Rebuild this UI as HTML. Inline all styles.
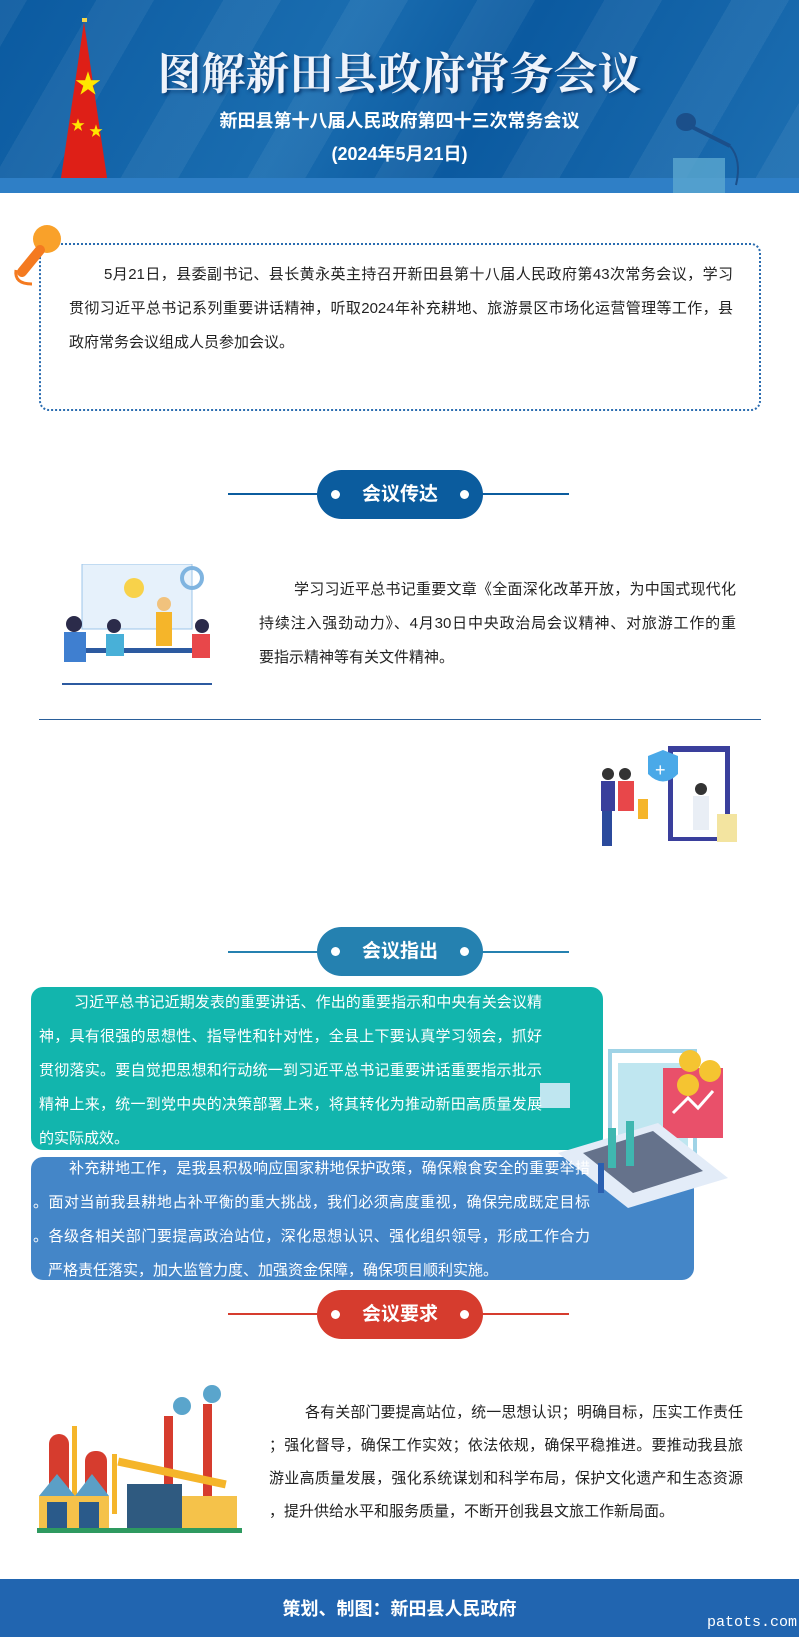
<!DOCTYPE html>
<html><head><meta charset="utf-8">
<style>
*{margin:0;padding:0;box-sizing:border-box}
body{width:799px;height:1637px;position:relative;background:#fff;font-family:"Liberation Sans","Noto Sans CJK SC",sans-serif;overflow:hidden}
.a{position:absolute}
.t{font-size:15px;color:#222;line-height:34px;white-space:nowrap}
.t span{display:block;text-align:justify;text-align-last:justify}
.t span.l{text-align-last:left}
.h{position:absolute;left:317px;width:166px;height:49px;border-radius:25px;color:#fff;font-weight:bold;font-size:19px;text-align:center;line-height:49px}
.h:before,.h:after{content:"";position:absolute;top:20px;width:9px;height:9px;border-radius:50%;background:#fff}
.h:before{left:14px}.h:after{right:14px}
.ln{position:absolute;left:228px;width:341px;height:2px}
</style></head><body>
<div class="a" style="left:0;top:0;width:799px;height:193px;background:linear-gradient(120deg,#0b5aa0 0%,#1a6db0 40%,#0b5aa0 60%,#1d6fb2 100%);overflow:hidden">
 <div class="a" style="left:-100px;top:0;width:900px;height:193px;background:repeating-linear-gradient(120deg,rgba(255,255,255,0) 0 60px,rgba(255,255,255,.06) 60px 110px)"></div>
 <div class="a" style="left:0;top:178px;width:799px;height:15px;background:#2f7fc6"></div>
 <svg class="a" style="left:55px;top:18px" width="60" height="160"><rect x="27" y="0" width="5" height="4" fill="#f6d64a"/><polygon points="29,4 6,160 52,160" fill="#de1f17"/><text x="20" y="75" font-size="26" fill="#ffe600">★</text><text x="16" y="112" font-size="14" fill="#ffe600">★</text><text x="34" y="118" font-size="14" fill="#ffe600">★</text></svg>
 <div class="a" style="left:0;top:38px;width:799px;text-align:center;font-size:44px;font-weight:bold;color:#eef3fb;text-shadow:2px 2px 3px #0a3a70;font-family:'Noto Serif CJK SC','Liberation Serif',serif">图解新田县政府常务会议</div>
 <div class="a" style="left:0;top:107px;width:799px;text-align:center;font-size:18px;font-weight:bold;color:#fff">新田县第十八届人民政府第四十三次常务会议</div>
 <div class="a" style="left:0;top:140px;width:799px;text-align:center;font-size:18px;font-weight:bold;color:#fff">(2024年5月21日)</div>
 <svg class="a" style="left:670px;top:110px" width="90" height="83"><ellipse cx="16" cy="12" rx="10" ry="9" fill="#1b4f8a"/><line x1="20" y1="16" x2="60" y2="36" stroke="#1b4f8a" stroke-width="4"/><path d="M60 36 Q72 50 66 75" stroke="#1b4f8a" fill="none" stroke-width="2"/><rect x="3" y="48" width="52" height="35" fill="#5ba7d0" opacity=".8"/></svg>
</div>
<div class="a" style="left:39px;top:243px;width:722px;height:168px;border:2px dotted #2a6cb0;border-radius:10px"></div>
<svg class="a" style="left:10px;top:222px" width="55" height="65"><circle cx="37" cy="17" r="14" fill="#f9a12a"/><path d="M30 28 L12 50" stroke="#f47a20" stroke-width="10" stroke-linecap="round"/><path d="M6 48 Q4 62 22 62" stroke="#f47a20" stroke-width="3" fill="none"/></svg>
<div class="a t" style="left:69px;top:258px;width:664px">
<span style="padding-left:35px">5月21日，县委副书记、县长黄永英主持召开新田县第十八届人民政府第43次常务会议，学习</span>
<span>贯彻习近平总书记系列重要讲话精神，听取2024年补充耕地、旅游景区市场化运营管理等工作，县</span>
<span class="l">政府常务会议组成人员参加会议。</span></div>
<div class="ln" style="top:493px;background:#0b5c9e"></div>
<div class="h" style="top:470px;background:#0b5c9e">会议传达</div>
<svg class="a" style="left:52px;top:564px" width="170" height="122"><rect x="30" y="0" width="110" height="65" fill="#e6f1fb" stroke="#9cc5ea"/><circle cx="82" cy="24" r="10" fill="#f8d24a"/><circle cx="140" cy="14" r="10" fill="none" stroke="#7fb4e0" stroke-width="4"/><rect x="30" y="84" width="110" height="5" fill="#2c5aa0"/><circle cx="22" cy="60" r="8" fill="#2b2b4a"/><rect x="12" y="68" width="22" height="30" fill="#3f7fd0"/><circle cx="62" cy="62" r="7" fill="#2b2b4a"/><rect x="54" y="70" width="18" height="22" fill="#48b0d8"/><circle cx="112" cy="40" r="7" fill="#f1c27d"/><rect x="104" y="48" width="16" height="34" fill="#f5b52a"/><circle cx="150" cy="62" r="7" fill="#2b2b4a"/><rect x="140" y="70" width="18" height="24" fill="#e8474a"/><line x1="10" y1="120" x2="160" y2="120" stroke="#2c5aa0" stroke-width="2"/></svg>
<div class="a t" style="left:259px;top:573px;width:477px">
<span style="padding-left:35px">学习习近平总书记重要文章《全面深化改革开放，为中国式现代化</span>
<span>持续注入强劲动力》、4月30日中央政治局会议精神、对旅游工作的重</span>
<span class="l">要指示精神等有关文件精神。</span></div>
<div class="a" style="left:39px;top:719px;width:722px;height:1px;background:#2a5f9a"></div>
<svg class="a" style="left:593px;top:744px" width="162" height="108"><rect x="75" y="2" width="62" height="95" fill="#3a3f9c"/><rect x="80" y="8" width="52" height="85" fill="#fff"/><path d="M55 12 L70 6 L85 12 L85 30 Q70 45 55 30Z" fill="#4aa9e8"/><text x="62" y="32" font-size="18" fill="#fff">+</text><circle cx="15" cy="30" r="6" fill="#333"/><rect x="8" y="37" width="14" height="30" fill="#3a3f9c"/><rect x="9" y="67" width="10" height="35" fill="#2b4a9c"/><circle cx="32" cy="30" r="6" fill="#333"/><rect x="25" y="37" width="16" height="30" fill="#e8474a"/><rect x="45" y="55" width="10" height="20" fill="#f5b52a"/><circle cx="108" cy="45" r="6" fill="#333"/><rect x="100" y="52" width="16" height="34" fill="#e9eef5"/><rect x="124" y="70" width="20" height="28" fill="#f3e4a0"/></svg>
<div class="ln" style="top:951px;background:#2581b0"></div>
<div class="h" style="top:927px;background:#2581b0">会议指出</div>
<div class="a" style="left:31px;top:987px;width:572px;height:163px;background:#12b5ad;border-radius:12px"></div>
<div class="a" style="left:31px;top:1157px;width:663px;height:123px;background:#4486c8;border-radius:12px"></div>
<svg class="a" style="left:538px;top:1003px" width="190" height="210"><rect x="80" y="60" width="70" height="95" fill="#bfe6f0"/><rect x="72" y="48" width="85" height="110" fill="none" stroke="#9fd3e6" stroke-width="4"/><rect x="125" y="65" width="60" height="70" fill="#e9506a"/><polyline points="135,110 150,95 160,105 175,88" stroke="#fff" stroke-width="3" fill="none"/><circle cx="152" cy="58" r="11" fill="#f5c431"/><circle cx="172" cy="68" r="11" fill="#f5c431"/><circle cx="150" cy="82" r="11" fill="#f5c431"/><polygon points="20,150 120,120 190,175 90,205" fill="#e3ecf8"/><polygon points="45,150 115,128 165,168 95,190" fill="#2f3f5c" opacity=".7"/><rect x="70" y="125" width="8" height="40" fill="#3fb7b0"/><rect x="88" y="118" width="8" height="45" fill="#3fb7b0"/><rect x="2" y="80" width="30" height="25" fill="#bfe6f0"/><rect x="60" y="160" width="6" height="30" fill="#2a5fb0"/></svg>
<div class="a t" style="left:39px;top:986px;width:503px;color:#fff">
<span style="padding-left:35px">习近平总书记近期发表的重要讲话、作出的重要指示和中央有关会议精</span>
<span>神，具有很强的思想性、指导性和针对性，全县上下要认真学习领会，抓好</span>
<span>贯彻落实。要自觉把思想和行动统一到习近平总书记重要讲话重要指示批示</span>
<span>精神上来，统一到党中央的决策部署上来，将其转化为推动新田高质量发展</span>
<span class="l">的实际成效。</span></div>
<div class="a t" style="left:33px;top:1152px;width:557px;color:#fff">
<span style="padding-left:36px">补充耕地工作，是我县积极响应国家耕地保护政策，确保粮食安全的重要举措</span>
<span>。面对当前我县耕地占补平衡的重大挑战，我们必须高度重视，确保完成既定目标</span>
<span>。各级各相关部门要提高政治站位，深化思想认识、强化组织领导，形成工作合力</span>
<span class="l" style="padding-left:15px">严格责任落实，加大监管力度、加强资金保障，确保项目顺利实施。</span></div>
<div class="ln" style="top:1313px;background:#d63c2e"></div>
<div class="h" style="top:1290px;background:#d63c2e">会议要求</div>
<svg class="a" style="left:37px;top:1384px" width="205" height="150"><circle cx="145" cy="22" r="9" fill="#5aa5cc"/><circle cx="175" cy="10" r="9" fill="#5aa5cc"/><rect x="127" y="32" width="9" height="80" fill="#d63c2e"/><rect x="166" y="20" width="9" height="92" fill="#d63c2e"/><rect x="12" y="50" width="20" height="80" rx="10" fill="#d63c2e"/><rect x="48" y="67" width="22" height="70" rx="10" fill="#d63c2e"/><rect x="35" y="42" width="5" height="70" fill="#f5b52a"/><rect x="75" y="70" width="5" height="60" fill="#f5b52a"/><polygon points="2,112 20,90 38,112 55,90 72,112" fill="#5b9fc6"/><rect x="2" y="112" width="70" height="34" fill="#f5c24a"/><rect x="10" y="118" width="20" height="26" fill="#2a5a8a"/><rect x="42" y="118" width="20" height="26" fill="#2a5a8a"/><rect x="90" y="100" width="55" height="46" fill="#2f5a80"/><rect x="80" y="85" width="110" height="8" fill="#f5b52a" transform="rotate(12 135 89)"/><rect x="145" y="112" width="55" height="34" fill="#f5c24a"/><rect x="0" y="144" width="205" height="5" fill="#2e9a60"/></svg>
<div class="a t" style="left:269px;top:1396px;width:474px;line-height:33px">
<span style="padding-left:36px">各有关部门要提高站位，统一思想认识；明确目标，压实工作责任</span>
<span>；强化督导，确保工作实效；依法依规，确保平稳推进。要推动我县旅</span>
<span>游业高质量发展，强化系统谋划和科学布局，保护文化遗产和生态资源</span>
<span class="l">，提升供给水平和服务质量，不断开创我县文旅工作新局面。</span></div>
<div class="a" style="left:0;top:1579px;width:799px;height:58px;background:#2165b0"></div>
<div class="a" style="left:0;top:1595px;width:799px;text-align:center;color:#fff;font-weight:bold;font-size:18px">策划、制图：新田县人民政府</div>
<div class="a" style="left:707px;top:1614px;color:#fff;font-family:'Liberation Mono',monospace;font-size:15px">patots.com</div>
</body></html>
